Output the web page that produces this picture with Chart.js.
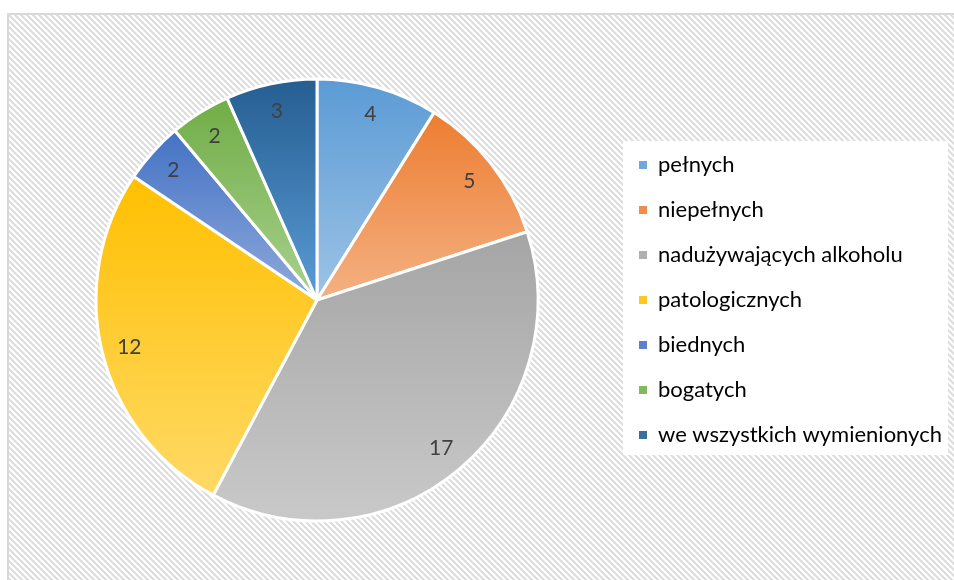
<!DOCTYPE html>
<html>
<head>
<meta charset="utf-8">
<script src="https://cdn.jsdelivr.net/npm/chart.js@4"></script>
<style>
  html, body { margin: 0; padding: 0; background: #fff; }
  #wrap { width: 954px; height: 580px; position: relative; }
</style>
</head>
<body>
<div id="wrap"><canvas id="chartRodziny"></canvas></div>
<script>
const kategorie = ['pełnych', 'niepełnych', 'nadużywających alkoholu', 'patologicznych', 'biednych', 'bogatych', 'we wszystkich wymienionych'];
const liczby = [4, 5, 17, 12, 2, 2, 3];
// kolor u góry wycinka i jaśniejszy odcień u dołu
const koloryGora = ['#5B9BD5', '#ED7D31', '#A5A5A5', '#FFC000', '#4472C4', '#70AD47', '#255E91'];
const koloryDol = ['#9DC3E6', '#F4B183', '#C9C9C9', '#FFD966', '#8FAADC', '#A9D18E', '#5B9BD5'];
const koloryLegendy = ['#6FA8DC', '#F08C4A', '#B0B0B0', '#FFC820', '#5B82CB', '#82B95E', '#3A6FA0'];

const PROMIEN = 221;
const FONT = 'Lato, Carlito, Calibri, "Open Sans", sans-serif';

function wzorTla() {
    const c = document.createElement('canvas');
    c.width = 6; c.height = 6;
    const g = c.getContext('2d');
    g.fillStyle = '#ffffff';
    g.fillRect(0, 0, 6, 6);
    g.strokeStyle = '#dcdcdc';
    g.lineWidth = 2;
    g.beginPath();
    g.moveTo(-3, -3); g.lineTo(9, 9);
    g.moveTo(-3, 3); g.lineTo(3, 9);
    g.moveTo(3, -3); g.lineTo(9, 3);
    g.stroke();
    return c;
}

// gradient pionowy w obrębie wycinka
function gradientWycinka(context) {
    const chart = context.chart;
    const area = chart.chartArea;
    if (!area) return koloryGora[context.dataIndex];
    const i = context.dataIndex;
    const suma = liczby.reduce((a, b) => a + b, 0);
    const przed = liczby.slice(0, i).reduce((a, b) => a + b, 0);
    const a0 = -Math.PI / 2 + przed / suma * 2 * Math.PI;
    const a1 = a0 + liczby[i] / suma * 2 * Math.PI;
    const cy = (area.top + area.bottom) / 2;
    const ys = [cy, cy + PROMIEN * Math.sin(a0), cy + PROMIEN * Math.sin(a1)];
    [Math.PI / 2, 3 * Math.PI / 2].forEach(k => {
        if (k > a0 && k < a1) ys.push(cy + PROMIEN * Math.sin(k));
    });
    const g = chart.ctx.createLinearGradient(0, Math.min(...ys), 0, Math.max(...ys));
    g.addColorStop(0, koloryGora[i]);
    g.addColorStop(1, koloryDol[i]);
    return g;
}

const tloPlugin = {
    id: 'tlo',
    beforeDraw(chart) {
        const { ctx, width, height } = chart;
        ctx.save();
        ctx.fillStyle = '#ffffff';
        ctx.fillRect(0, 0, width, height);
        ctx.fillStyle = ctx.createPattern(wzorTla(), 'repeat');
        ctx.fillRect(9, 15, width - 9, height - 15);
        ctx.fillStyle = '#d9d9d9';
        ctx.fillRect(7, 13, width - 7, 2);
        ctx.fillRect(7, 13, 2, height - 13);

        // białe pole pod legendą
        const hb = chart.legend && chart.legend.legendHitBoxes;
        if (hb && hb.length) {
            const lewo = hb[0].left - 16;
            const gora = hb[0].top - 13;
            const prawo = Math.max(...hb.map(h => h.left + h.width)) + 6;
            const dol = hb[hb.length - 1].top + hb[hb.length - 1].height + 9;
            ctx.fillStyle = '#ffffff';
            ctx.fillRect(lewo, gora, prawo - lewo, dol - gora);
        }
        ctx.restore();
    }
};

const etykietyPlugin = {
    id: 'etykiety',
    afterDatasetsDraw(chart) {
        const { ctx } = chart;
        const meta = chart.getDatasetMeta(0);
        ctx.save();
        ctx.font = '21px ' + FONT;
        ctx.fillStyle = '#404040';
        ctx.textAlign = 'center';
        ctx.textBaseline = 'middle';
        meta.data.forEach((arc, i) => {
            const p = arc.getProps(['x', 'y', 'startAngle', 'endAngle', 'outerRadius'], true);
            const kat = (p.startAngle + p.endAngle) / 2;
            const r = p.outerRadius * 0.875;
            ctx.fillText(String(liczby[i]), p.x + Math.cos(kat) * r, p.y + Math.sin(kat) * r);
        });
        ctx.restore();
    }
};

const chart = new Chart(document.getElementById('chartRodziny'), {
    type: 'pie',
    data: {
        labels: kategorie,
        datasets: [{
            data: liczby,
            backgroundColor: gradientWycinka,
            borderColor: '#ffffff',
            borderWidth: 3
        }]
    },
    options: {
        responsive: true,
        maintainAspectRatio: false,
        animation: false,
        radius: PROMIEN,
        layout: { padding: { left: 18, right: 12, top: 20, bottom: 0 } },
        plugins: {
            legend: {
                position: 'right',
                labels: {
                    boxWidth: 8,
                    boxHeight: 8,
                    padding: 23,
                    color: '#595959',
                    font: { family: FONT, size: 22 },
                    generateLabels(ch) {
                        return kategorie.map((k, i) => ({
                            text: k,
                            fillStyle: koloryLegendy[i],
                            strokeStyle: koloryLegendy[i],
                            lineWidth: 0,
                            hidden: false,
                            index: i
                        }));
                    }
                }
            },
            tooltip: { enabled: false }
        }
    },
    plugins: [tloPlugin, etykietyPlugin]
});

// dosunięcie legendy tak, by zaczynała się przy x = 616
const przesuniecie = chart.legend.left - 616;
if (Math.abs(przesuniecie) > 0.5) {
    chart.options.layout.padding.right += przesuniecie;
    chart.update('none');
}
</script>
</body>
</html>
